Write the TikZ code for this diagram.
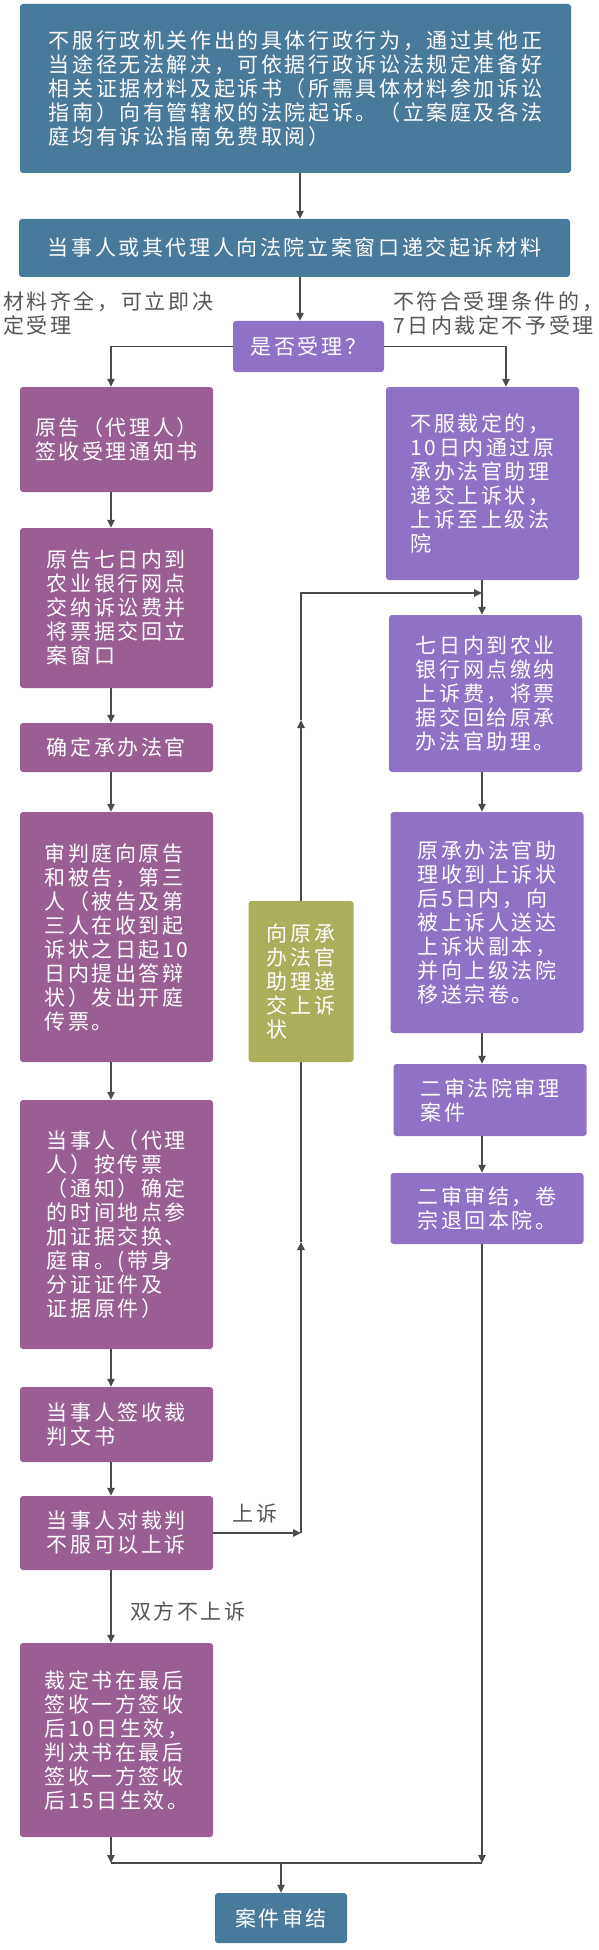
\documentclass[tikz,border=0pt]{standalone}
\usepackage{fontspec}
\newfontfamily\cjk[LetterSpace=12.4]{Noto Sans CJK SC}
\usetikzlibrary{arrows.meta}

\definecolor{boxblue}{HTML}{487A9C}
\definecolor{boxplum}{HTML}{9B5E93}
\definecolor{boxlav}{HTML}{8F72C6}
\definecolor{boxolive}{HTML}{ABAF5C}
\definecolor{edgegray}{HTML}{4A4A4A}
\definecolor{notegray}{HTML}{555555}

\begin{document}
\begin{tikzpicture}[x=1pt, y=-1pt,
  every node/.style={font=\cjk\fontsize{21}{24}\selectfont},
  box/.style={rounded corners=3pt, inner sep=0pt, text=white, align=left},
  lbox/.style={box, fill=boxplum, minimum width=193pt},
  rbox/.style={box, fill=boxlav, minimum width=193pt},
  note/.style={text=notegray, align=left, inner sep=0pt},
  line/.style={draw=edgegray, line width=1.4pt},
  arr/.style={line, -{Triangle[length=8pt,width=7.5pt]}}]
  \useasboundingbox (0,0) rectangle (598,1950);

  % 列的位置
  \path (111,0) coordinate (lx);
  \path (300,0) coordinate (mx);
  \path (482,0) coordinate (rx);
  \path (506,0) coordinate (bx);
  \path (0,1863) coordinate (my);

  % 起诉
  \node[box, fill=boxblue, minimum width=551pt, minimum height=169pt] (qisu) at (295.5,88.5)
    {不服行政机关作出的具体行政行为，通过其他正\\当途径无法解决，可依据行政诉讼法规定准备好\\相关证据材料及起诉书（所需具体材料参加诉讼\\指南）向有管辖权的法院起诉。（立案庭及各法\\庭均有诉讼指南免费取阅）};
  \node[box, fill=boxblue, minimum width=551pt, minimum height=58pt] (dijiao) at (294.5,248)
    {当事人或其代理人向法院立案窗口递交起诉材料};
  \node[box, fill=boxlav, minimum width=151pt, minimum height=51pt] (shouli) at (308.5,346.5)
    {是否受理？};

  \node[note, anchor=west] (shi) at (3,313.5) {材料齐全，可立即决\\定受理};
  \node[note, anchor=west] (fou) at (393,313.5) {不符合受理条件的，\\7日内裁定不予受理};

  % 一审
  \node[lbox, minimum height=105pt] (l1) at (116.5,439.5) {原告（代理人）\\签收受理通知书};
  \node[lbox, minimum height=160pt] (l2) at (116.5,608) {原告七日内到\\农业银行网点\\交纳诉讼费并\\将票据交回立\\案窗口};
  \node[lbox, minimum height=49pt] (l3) at (116.5,747.5) {确定承办法官};
  \node[lbox, minimum height=250pt] (l4) at (116.5,937) {审判庭向原告\\和被告，第三\\人（被告及第\\三人在收到起\\诉状之日起10\\日内提出答辩\\状）发出开庭\\传票。};
  \node[lbox, minimum height=249pt] (l5) at (116.5,1224.5) {当事人（代理\\人）按传票\\（通知）确定\\的时间地点参\\加证据交换、\\庭审。(带身\\分证证件及\\证据原件）};
  \node[lbox, minimum height=75pt] (l6) at (116.5,1424.5) {当事人签收裁\\判文书};
  \node[lbox, minimum height=74pt] (l7) at (116.5,1533) {当事人对裁判\\不服可以上诉};
  \node[lbox, minimum height=194pt] (l8) at (116.5,1740) {裁定书在最后\\签收一方签收\\后10日生效，\\判决书在最后\\签收一方签收\\后15日生效。};

  % 上诉
  \node[rbox, minimum height=193pt] (r1) at (482.5,483.5) {不服裁定的，\\10日内通过原\\承办法官助理\\递交上诉状，\\上诉至上级法\\院};
  \node[rbox, minimum height=157pt] (r2) at (485.5,693.5) {七日内到农业\\银行网点缴纳\\上诉费，将票\\据交回给原承\\办法官助理。};
  \node[rbox, minimum height=221pt] (r3) at (487,922.5) {原承办法官助\\理收到上诉状\\后5日内，向\\被上诉人送达\\上诉状副本，\\并向上级法院\\移送宗卷。};
  \node[rbox, minimum height=72pt] (r4) at (490,1100) {二审法院审理\\案件};
  \node[rbox, minimum height=71pt] (r5) at (487,1208.5) {二审审结，卷\\宗退回本院。};

  \node[box, fill=boxolive, minimum width=105pt, minimum height=161pt] (dizhuang) at (301,981.5)
    {向原承\\办法官\\助理递\\交上诉\\状};

  \node[box, fill=boxblue, minimum width=132pt, minimum height=50pt] (shenjie) at (281,1918) {案件审结};

  % 连线
  \draw[arr] (qisu.south -| mx) -- (dijiao.north -| mx);
  \draw[arr] (dijiao.south -| mx) -- (shouli.north -| mx);
  \draw[arr] (shouli.west) -| (l1.north -| lx);
  \draw[arr] (shouli.east) -| (r1.north -| bx);

  \foreach \a/\b in {l1/l2, l2/l3, l3/l4, l4/l5, l5/l6, l6/l7}
    \draw[arr] (\a.south -| lx) -- (\b.north -| lx);
  \draw[arr] (l7.south -| lx) -- (l8.north -| lx);
  \node[note, anchor=west] (bushang) at (130,1611) {双方不上诉};

  \foreach \a/\b in {r1/r2, r2/r3, r3/r4, r4/r5}
    \draw[arr] (\a.south -| rx) -- (\b.north -| rx);

  % 上诉路线
  \path (301,1533) coordinate (u1);
  \path (301,1242) coordinate (u2);
  \path (301,720) coordinate (u3);
  \path (301,593) coordinate (u4);
  \draw[arr] (l7.east) -- (u1);
  \node[note] (shangsu) at (255,1513) {上诉};
  \draw[arr] (u1) -- (u2);
  \draw[line] (u2) -- (dizhuang.south);
  \draw[arr] (dizhuang.north) -- (u3);
  \draw[arr] (u3) -- (u4) -- (u4 -| rx);

  % 汇合
  \draw[arr] (l8.south -| lx) -- (lx |- my);
  \draw[arr] (r5.south -| rx) -- (rx |- my);
  \draw[line] (lx |- my) -- (rx |- my);
  \draw[arr] (shenjie.north |- my) -- (shenjie.north);
\end{tikzpicture}
\end{document}
